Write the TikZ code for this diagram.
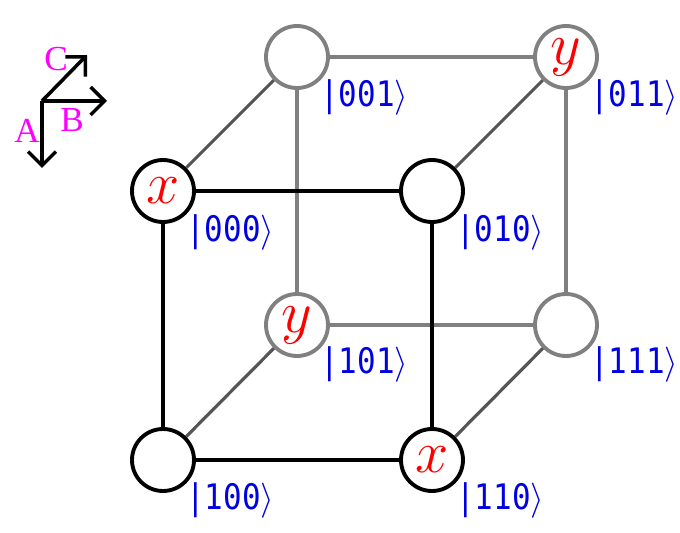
\documentclass[tikz,border=0pt]{standalone}
\usepackage{fix-cm}
\usepackage{fontspec}
\setmonofont[FakeStretch=0.88]{DejaVu Sans Mono}
\newfontfamily\axisfont{Liberation Serif}
\usetikzlibrary{arrows.meta}
\definecolor{myBlue}{HTML}{0000E0}
\definecolor{myGray}{HTML}{808080}
\definecolor{myDark}{HTML}{555555}
\definecolor{myMagenta}{HTML}{FF00FF}
\definecolor{myRed}{HTML}{FF0000}

\begin{document}
\begin{tikzpicture}[x=0.02cm, y=-0.02cm, >={Straight Barb[length=2.8mm,width=5.6mm]}]

  \tikzstyle{F}=[circle, draw=black, fill=white, line width=2.2pt, minimum size=1.24cm, inner sep=0pt, text=myRed, font=\fontsize{34}{34}\selectfont]
  \tikzstyle{G}=[F, draw=myGray]
  \tikzstyle{K}=[anchor=west, inner sep=0pt, text=myBlue, font=\fontsize{20}{20}\selectfont\ttfamily]
  \tikzstyle{L}=[inner sep=0pt, text=myMagenta, font=\fontsize{20}{20}\selectfont\axisfont]

  \useasboundingbox (0,0) rectangle (680,533);

  % axes
  \coordinate (o) at (42,101);
  \coordinate (a) at (42,168);
  \coordinate (b) at (107,101);
  \coordinate (c) at (87,55);
  \draw [->, line width=2pt] (o) to (a);
  \draw [->, line width=2pt] (o) to (b);
  \draw [->, line width=2pt] (o) to (c);
  \node[L] at (27,131) (A) {A};
  \node[L] at (72,120) (B) {B};
  \node[L] at (56,59) (C) {C};

  % back face
  \node[G] at (297,57) (n001) {};
  \node[G] at (566,57) (n011) {$y$};
  \node[G] at (297,325) (n101) {$y$};
  \node[G] at (566,325) (n111) {};

  % front face
  \node[F] at (163,191) (n000) {$x$};
  \node[F] at (432,191) (n010) {};
  \node[F] at (163,460) (n100) {};
  \node[F] at (432,460) (n110) {$x$};

  \draw [myGray, line width=1.8pt] (n001) to (n011);
  \draw [myGray, line width=1.8pt] (n001) to (n101);
  \draw [myGray, line width=1.8pt] (n101) to (n111);
  \draw [myGray, line width=1.8pt] (n011) to (n111);

  \draw [myDark, line width=1.8pt] (n000) to (n001);
  \draw [myDark, line width=1.8pt] (n010) to (n011);
  \draw [myDark, line width=1.8pt] (n100) to (n101);
  \draw [myDark, line width=1.8pt] (n110) to (n111);

  \draw [black, line width=2pt] (n000) to (n010);
  \draw [black, line width=2pt] (n000) to (n100);
  \draw [black, line width=2pt] (n100) to (n110);
  \draw [black, line width=2pt] (n010) to (n110);

  % labels
  \node[K] at (186,232) (l000) {|000$\big\rangle$};
  \node[K] at (456,232) (l010) {|010$\big\rangle$};
  \node[K] at (320,97) (l001) {|001$\big\rangle$};
  \node[K] at (590,97) (l011) {|011$\big\rangle$};
  \node[K] at (320,364) (l101) {|101$\big\rangle$};
  \node[K] at (590,364) (l111) {|111$\big\rangle$};
  \node[K] at (186,500) (l100) {|100$\big\rangle$};
  \node[K] at (456,500) (l110) {|110$\big\rangle$};

\end{tikzpicture}
\end{document}
